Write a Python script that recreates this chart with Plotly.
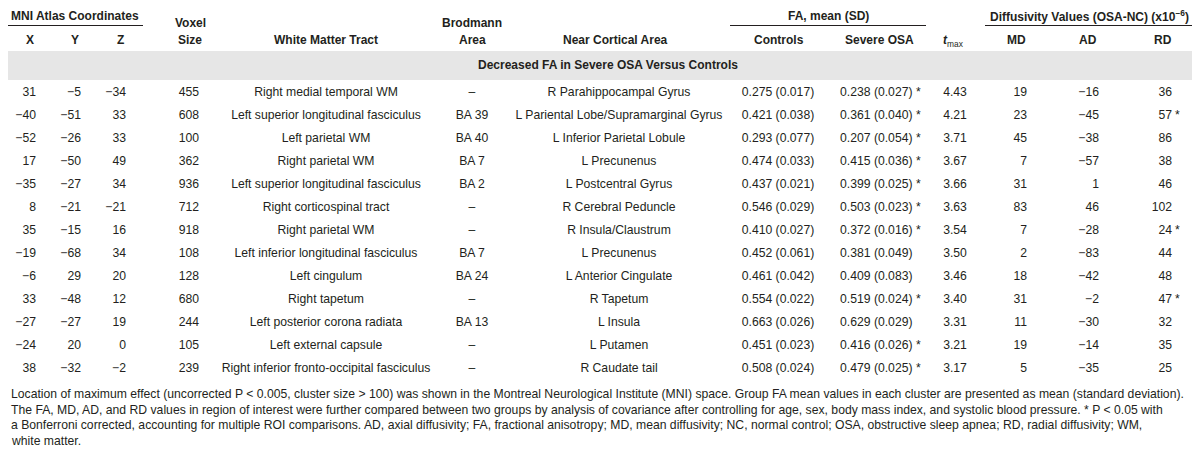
import plotly.graph_objects as go

# ---------------- data ----------------
X = [31, -40, -52, 17, -35, 8, 35, -19, -6, 33, -27, -24, 38]
Y = [-5, -51, -26, -50, -27, -21, -15, -68, 29, -48, -27, 20, -32]
Z = [-34, 33, 33, 49, 34, -21, 16, 34, 20, 12, 19, 0, -2]
voxel = [455, 608, 100, 362, 936, 712, 918, 108, 128, 680, 244, 105, 239]
tract = ["Right medial temporal WM", "Left superior longitudinal fasciculus", "Left parietal WM",
         "Right parietal WM", "Left superior longitudinal fasciculus", "Right corticospinal tract",
         "Right parietal WM", "Left inferior longitudinal fasciculus", "Left cingulum",
         "Right tapetum", "Left posterior corona radiata", "Left external capsule",
         "Right inferior fronto-occipital fasciculus"]
brodmann = ["–", "BA 39", "BA 40", "BA 7", "BA 2", "–", "–", "BA 7", "BA 24", "–", "BA 13", "–", "–"]
cortical = ["R Parahippocampal Gyrus", "L Pariental Lobe/Supramarginal Gyrus", "L Inferior Parietal Lobule",
            "L Precunenus", "L Postcentral Gyrus", "R Cerebral Peduncle", "R Insula/Claustrum",
            "L Precunenus", "L Anterior Cingulate", "R Tapetum", "L Insula", "L Putamen", "R Caudate tail"]
ctrl_mean = [0.275, 0.421, 0.293, 0.474, 0.437, 0.546, 0.410, 0.452, 0.461, 0.554, 0.663, 0.451, 0.508]
ctrl_sd = [0.017, 0.038, 0.077, 0.033, 0.021, 0.029, 0.027, 0.061, 0.042, 0.022, 0.026, 0.023, 0.024]
osa_mean = [0.238, 0.361, 0.207, 0.415, 0.399, 0.503, 0.372, 0.381, 0.409, 0.519, 0.629, 0.416, 0.479]
osa_sd = [0.027, 0.040, 0.054, 0.036, 0.025, 0.023, 0.016, 0.049, 0.083, 0.024, 0.029, 0.026, 0.025]
osa_sig = [True, True, True, True, True, True, True, False, False, True, False, True, True]
tmax = [4.43, 4.21, 3.71, 3.67, 3.66, 3.63, 3.54, 3.50, 3.46, 3.40, 3.31, 3.21, 3.17]
MD = [19, 23, 45, 7, 31, 83, 7, 2, 18, 31, 11, 19, 5]
AD = [-16, -45, -38, -57, 1, 46, -28, -83, -42, -2, -30, -14, -35]
RD = [36, 57, 86, 38, 46, 102, 24, 44, 48, 47, 32, 35, 25]
RD_sig = [False, True, False, False, False, False, True, False, False, True, False, False, False]

section_title = "Decreased FA in Severe OSA Versus Controls"
footnotes = [
    "Location of maximum effect (uncorrected P &lt; 0.005, cluster size &gt; 100) was shown in the Montreal Neurological Institute (MNI) space. Group FA mean values in each cluster are presented as mean (standard deviation).",
    "The FA, MD, AD, and RD values in region of interest were further compared between two groups by analysis of covariance after controlling for age, sex, body mass index, and systolic blood pressure. * P &lt; 0.05 with",
    "a Bonferroni corrected, accounting for multiple ROI comparisons. AD, axial diffusivity; FA, fractional anisotropy; MD, mean diffusivity; NC, normal control; OSA, obstructive sleep apnea; RD, radial diffusivity; WM,",
    "white matter.",
]

# ---------------- styling ----------------
FONT = "Liberation Sans, Arial, sans-serif"
FS = 12.2
COL = "#231f20"
W, H = 1200, 456
ROW0, ROWH = 85, 23


def num(v):
    return str(v).replace("-", "−")


n = len(X)
rows_y = [ROW0 + ROWH * i for i in range(n)]

fig = go.Figure()


def col(xpos, texts, pos, ys=None):
    ys = rows_y if ys is None else ys
    fig.add_trace(go.Scatter(
        x=[xpos] * len(texts), y=ys, mode="text", text=texts,
        textposition=pos, textfont=dict(family=FONT, size=FS, color=COL),
        hoverinfo="skip", showlegend=False, cliponaxis=False))


col(28, [num(v) for v in X], "middle left")
col(73, [num(v) for v in Y], "middle left")
col(118, [num(v) for v in Z], "middle left")
col(191, [str(v) for v in voxel], "middle left")
col(318, tract, "middle center")
col(464, brodmann, "middle center")
col(611, cortical, "middle center")
col(770, [f"{m:.3f} ({s:.3f})" for m, s in zip(ctrl_mean, ctrl_sd)], "middle center")
col(832, [f"{m:.3f} ({s:.3f})" + (" *" if g else "") for m, s, g in zip(osa_mean, osa_sd, osa_sig)], "middle right")
col(947, [f"{v:.2f}" for v in tmax], "middle center")
col(1019, [num(v) for v in MD], "middle left")
col(1091, [num(v) for v in AD], "middle left")
col(1164, [num(v) for v in RD], "middle left")
sig_rows = [y for y, g in zip(rows_y, RD_sig) if g]
col(1167, ["*"] * len(sig_rows), "middle right", sig_rows)

# ---------------- header ----------------
ann = []
HFS = 12


def hdr(x, y, t, anchor="center"):
    ann.append(dict(x=x, y=y, xref="x", yref="y", text=f"<b>{t}</b>", showarrow=False,
                    xanchor=anchor, yanchor="middle",
                    font=dict(family=FONT, size=HFS, color=COL)))


hdr(67, 8, "MNI Atlas Coordinates")
hdr(22, 32, "X")
hdr(67, 32, "Y")
hdr(112, 32, "Z")
hdr(182, 15, "Voxel")
hdr(182, 32, "Size")
hdr(318, 32, "White Matter Tract")
hdr(464, 15, "Brodmann")
hdr(464, 32, "Area")
hdr(607, 32, "Near Cortical Area")
hdr(820, 8, "FA, mean (SD)")
hdr(771, 32, "Controls")
hdr(871, 32, "Severe OSA")
ann.append(dict(x=945, y=33, xref="x", yref="y", text="<b><i>t</i></b><sub>max</sub>", showarrow=False,
                xanchor="center", yanchor="middle", font=dict(family=FONT, size=HFS, color=COL)))
hdr(1081, 8, "Diffusivity Values (OSA-NC) (x10<sup>−6</sup>)")
hdr(1008, 32, "MD")
hdr(1080, 32, "AD")
hdr(1155, 32, "RD")
hdr(600, 57, section_title)

for i, t in enumerate(footnotes):
    ann.append(dict(x=1, y=386 + 15.7 * i, xref="x", yref="y", text=t, showarrow=False,
                    xanchor="left", yanchor="middle",
                    font=dict(family=FONT, size=FS, color=COL)))

shapes = [
    dict(type="rect", xref="x", yref="y", x0=0, x1=1192, y0=43, y1=72,
         fillcolor="#e6e6e6", line=dict(width=0), layer="below"),
    dict(type="line", xref="x", yref="y", x0=0, x1=135, y0=17.5, y1=17.5, line=dict(color=COL, width=1)),
    dict(type="line", xref="x", yref="y", x0=722, x1=918, y0=17.5, y1=17.5, line=dict(color=COL, width=1)),
    dict(type="line", xref="x", yref="y", x0=977, x1=1190, y0=17.5, y1=17.5, line=dict(color=COL, width=1)),
]

fig.update_layout(
    width=W, height=H, margin=dict(l=0, r=0, t=0, b=0),
    paper_bgcolor="white", plot_bgcolor="white",
    xaxis=dict(range=[0, W], visible=False, fixedrange=True),
    yaxis=dict(range=[H, 0], visible=False, fixedrange=True),
    annotations=ann, shapes=shapes,
)

fig.write_html("out.html")
